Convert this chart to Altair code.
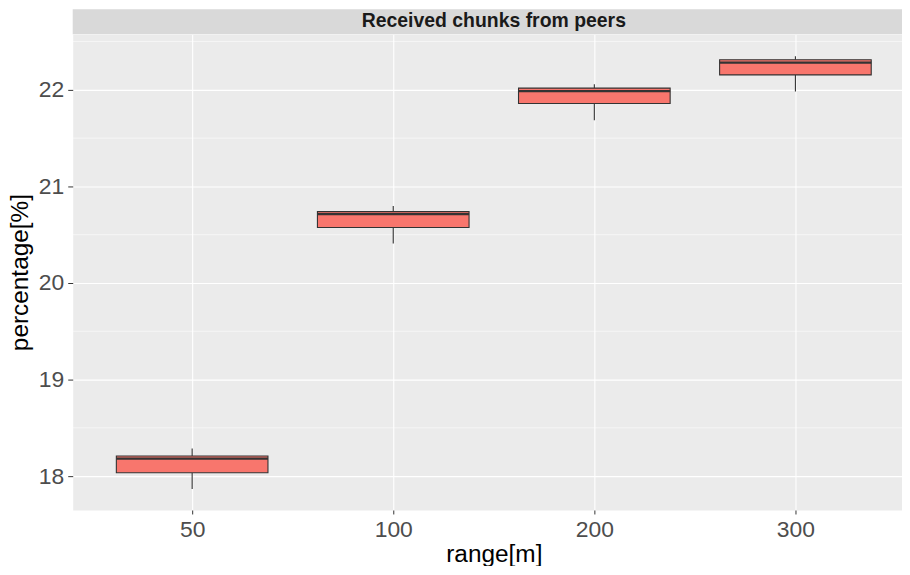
import altair as alt
import pandas as pd

# ---- data ----
ranges = ["50", "100", "200", "300"]
lower = [17.866, 20.409, 21.684, 21.982]
q1 = [18.034, 20.574, 21.859, 22.155]
median = [18.182, 20.714, 21.987, 22.281]
q3 = [18.209, 20.739, 22.018, 22.312]
upper = [18.286, 20.797, 22.059, 22.347]

y_ticks = [18, 19, 20, 21, 22]
y_minor = [18.5, 19.5, 20.5, 21.5, 22.5]
title_text = "Received chunks from peers"

W, H = 833, 478
HALF = 0.377
FONT = "Liberation Sans"

df = pd.DataFrame({
    "range": ranges,
    "idx": list(range(1, len(ranges) + 1)),
    "lower": lower, "q1": q1, "median": median, "q3": q3, "upper": upper,
})
df["lo"] = df["idx"] - HALF
df["hi"] = df["idx"] + HALF

label_expr = "[" + ",".join(f"'{r}'" for r in ranges) + "][datum.value - 1]"

xscale = alt.Scale(domain=[0.406, 4.530], nice=False, zero=False)
yscale = alt.Scale(domain=[17.649, 22.577], nice=False, zero=False)

xaxis = alt.Axis(values=list(range(1, len(ranges) + 1)), labelExpr=label_expr,
                 title="range[m]", grid=True, gridColor="white", gridWidth=1.1,
                 domain=False, tickColor="#333333", tickSize=4, labelPadding=5,
                 labelFontSize=23, labelColor="#4D4D4D", labelFont=FONT,
                 titleFontSize=24.5, titleFontWeight="normal", titleColor="black",
                 titleFont=FONT, titleX=423, titleY=52, titleBaseline="alphabetic",
                 titleAnchor="start", titleAlign="center")
yaxis = alt.Axis(values=y_ticks, format="d", title="percentage[%]", grid=True,
                 gridColor="white", gridWidth=1.1, domain=False, tickColor="#333333",
                 tickSize=5, labelPadding=4, labelFontSize=23, labelColor="#4D4D4D",
                 labelFont=FONT, titleFontSize=24.5, titleFontWeight="normal",
                 titleColor="black", titleFont=FONT, titleX=-45,
                 titleBaseline="alphabetic")

minor_df = pd.DataFrame({"v": y_minor})
minor = alt.Chart(minor_df).mark_rule(color="white", strokeWidth=0.55).encode(
    y=alt.Y("v:Q", scale=yscale, axis=yaxis),
)

base = alt.Chart(df)
whisk_up = base.mark_rule(color="#333333", strokeWidth=1.1).encode(
    x=alt.X("idx:Q", scale=xscale, axis=xaxis),
    y=alt.Y("q3:Q", scale=yscale), y2="upper:Q")
whisk_lo = base.mark_rule(color="#333333", strokeWidth=1.1).encode(
    x=alt.X("idx:Q", scale=xscale), y=alt.Y("q1:Q", scale=yscale), y2="lower:Q")
box = base.mark_rect(fill="#F8766D", stroke="#333333", strokeWidth=1.1).encode(
    x=alt.X("lo:Q", scale=xscale), x2="hi:Q",
    y=alt.Y("q1:Q", scale=yscale), y2="q3:Q")
med = base.mark_rule(color="#333333", strokeWidth=2.2).encode(
    x=alt.X("lo:Q", scale=xscale), x2="hi:Q", y=alt.Y("median:Q", scale=yscale))

one = alt.Data(values=[{"t": title_text}])
strip = alt.Chart(one).mark_rect(fill="#D9D9D9").encode(
    x=alt.value(0), x2=alt.value(W), y=alt.value(-25), y2=alt.value(0))
strip_text = alt.Chart(one).mark_text(fontSize=19.5, fontWeight="bold", font=FONT,
                                      color="#1A1A1A", baseline="middle",
                                      align="center").encode(
    x=alt.value(423), y=alt.value(-13), text="t:N")

chart = alt.layer(minor, whisk_up, whisk_lo, box, med, strip, strip_text).properties(
    width=W, height=H,
    autosize=alt.AutoSizeParams(type="none"),
    padding={"left": 65, "top": 25, "right": 0, "bottom": 55},
    background="white",
).configure_view(fill="#EBEBEB", stroke="transparent")

chart.save("out.html", embed_options={"renderer": "svg", "actions": False})
